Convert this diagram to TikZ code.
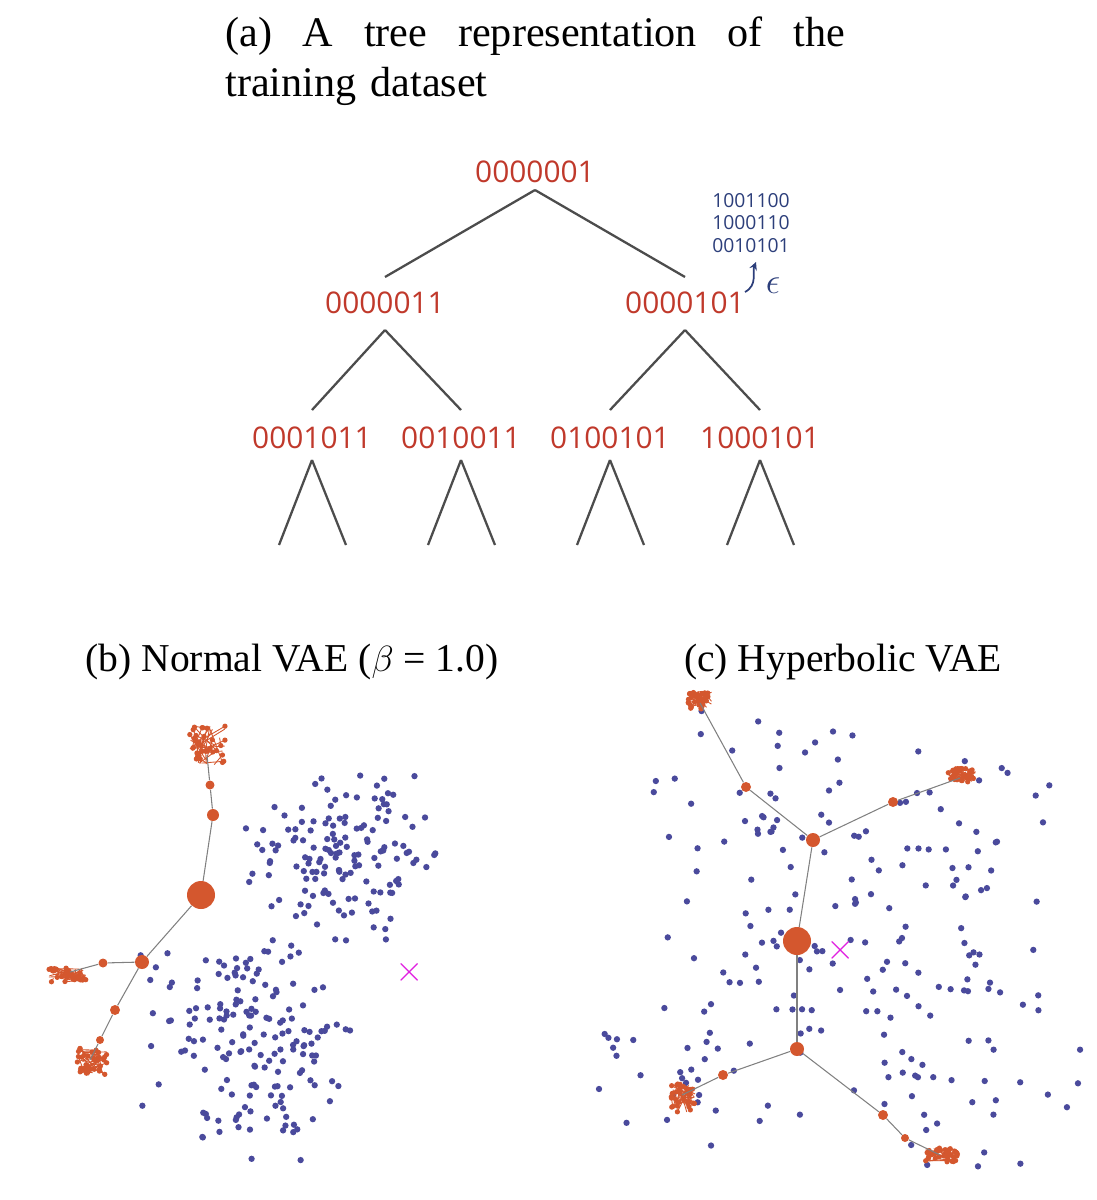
\documentclass[tikz,border=0pt]{standalone}
\usepackage{fontspec}
\setmainfont{Liberation Serif}
\newfontfamily\treefont{Open Sans}
\definecolor{tred}{HTML}{C0392B}
\definecolor{tblue}{HTML}{2C3E7A}
\definecolor{dotblue}{HTML}{4A4A9C}
\definecolor{dorange}{HTML}{D4572E}
\definecolor{xmag}{HTML}{E020E0}
\begin{document}
\begin{tikzpicture}[x=0.02cm,y=-0.02cm,
  lab/.style={font=\treefont\fontsize{17}{20}\selectfont,text=tred,inner sep=2pt},
  br/.style={draw=black!70,line width=1.3pt},
  ttl/.style={font=\fontsize{24}{29}\selectfont,inner sep=0pt},
  edge/.style={draw=gray,line width=0.6pt},
  onode/.style={circle,fill=dorange,inner sep=0pt}]
\useasboundingbox (0,0) rectangle (1097,1200);
\node[ttl,text width=12.4cm,align=left,anchor=north west] (ta) at (225,16) {\hbox to 12.4cm{(a)\hfill A\hfill tree\hfill representation\hfill of\hfill the}\\training dataset};
% tree
\node[lab] (r) at (535,172) {0000001};
\node[lab] (l) at (385,303) {0000011};
\node[lab] (rr) at (685,303) {0000101};
\node[lab] (a1) at (312,438) {0001011};
\node[lab] (a2) at (461,438) {0010011};
\node[lab] (a3) at (610,438) {0100101};
\node[lab] (a4) at (760,438) {1000101};
\draw[br] (535,190) -- (385,277); \draw[br] (535,190) -- (685,277);
\draw[br] (385,330) -- (312,410); \draw[br] (385,330) -- (461,410);
\draw[br] (685,330) -- (610,410); \draw[br] (685,330) -- (760,410);
\foreach \x in {312,461,610,760}{
  \draw[br] (\x,460) -- (\x-33,545); \draw[br] (\x,460) -- (\x+34,545);}
\node[font=\treefont\fontsize{11}{13}\selectfont,text=tblue,align=center] (eps) at (751,223) {1001100\\1000110\\0010101};
\draw[tblue,line width=1pt,->,>=stealth] (745,292) .. controls (758,285) and (752,272) .. (756,262);
\node[text=tblue,font=\fontsize{20}{20}\selectfont] (e) at (773,286) {$\epsilon$};
% titles
\node[ttl,font=\fontsize{22.5}{27}\selectfont] (tb) at (292,662) {(b) Normal VAE ($\beta$ = 1.0)};
\node[ttl,font=\fontsize{22.5}{27}\selectfont] (tc) at (843,662) {(c) Hyperbolic VAE};
% blue scatter b
\pgfmathsetseed{7}
\foreach \i in {1,...,150}{
  \pgfmathsetmacro\dx{55*(rand+rand)} \pgfmathsetmacro\dy{50*(rand+rand)}
  \fill[dotblue] (335+\dx,855+\dy) circle[radius=1.8pt];}
\foreach \i in {1,...,170}{
  \pgfmathsetmacro\dx{60*(rand+rand)} \pgfmathsetmacro\dy{60*(rand+rand)}
  \fill[dotblue] (245+\dx,1045+\dy) circle[radius=1.8pt];}
% blue scatter c
\foreach \cx/\cy in {770/810,950/850,700/1040,950/1070,860/960}{
  \foreach \i in {1,...,45}{
    \pgfmathsetmacro\dx{70*(rand+rand)} \pgfmathsetmacro\dy{70*(rand+rand)}
    \fill[dotblue] (\cx+\dx,\cy+\dy) circle[radius=1.8pt];}}
% orange clusters
\foreach \cx/\cy/\sx/\sy in {207/745/18/20,68/975/20/7,92/1062/16/14,700/700/12/9,962/775/14/7,683/1098/12/14,942/1155/17/7}{
  \foreach \i in {1,...,35}{
    \pgfmathsetmacro\dx{\sx*rand} \pgfmathsetmacro\dy{\sy*rand}
    \pgfmathsetmacro\ex{\sx*rand} \pgfmathsetmacro\ey{\sy*rand}
    \draw[dorange,line width=0.5pt] (\cx+\dx,\cy+\dy) -- (\cx+\ex,\cy+\ey);
    \fill[dorange] (\cx+\dx,\cy+\dy) circle[radius=1.5pt];}}
% orange tree b
\node[onode,minimum size=28*0.02cm] (b0) at (201,895) {};
\node[onode,minimum size=14*0.02cm] (b1) at (142,962) {};
\node[onode,minimum size=12*0.02cm] (b2) at (213,815) {};
\node[onode,minimum size=9*0.02cm] (b3) at (210,785) {};
\coordinate (bt) at (207,755);
\node[onode,minimum size=9*0.02cm] (b4) at (103,963) {};
\coordinate (bl) at (70,972);
\node[onode,minimum size=10*0.02cm] (b5) at (115,1010) {};
\node[onode,minimum size=8*0.02cm] (b6) at (100,1040) {};
\coordinate (bb) at (90,1060);
\draw[edge] (b0) -- (b2) -- (b3) -- (bt);
\draw[edge] (b0) -- (b1) -- (b4) -- (bl);
\draw[edge] (b1) -- (b5) -- (b6) -- (bb);
% orange tree c
\node[onode,minimum size=28*0.02cm] (c0) at (797,941) {};
\node[onode,minimum size=14*0.02cm] (c1) at (813,840) {};
\node[onode,minimum size=14*0.02cm] (c2) at (797,1049) {};
\node[onode,minimum size=10*0.02cm] (c3) at (746,787) {};
\coordinate (ct1) at (700,703);
\node[onode,minimum size=10*0.02cm] (c4) at (893,802) {};
\coordinate (ct2) at (960,778);
\node[onode,minimum size=10*0.02cm] (c5) at (723,1075) {};
\coordinate (ct3) at (682,1095);
\node[onode,minimum size=10*0.02cm] (c6) at (883,1115) {};
\node[onode,minimum size=8*0.02cm] (c7) at (905,1138) {};
\coordinate (ct4) at (940,1155);
\draw[edge] (c0) -- (c1); \draw[edge] (c0) -- (c2);
\draw[edge] (c1) -- (c3) -- (ct1);
\draw[edge] (c1) -- (c4) -- (ct2);
\draw[edge] (c2) -- (c5) -- (ct3);
\draw[edge] (c2) -- (c6) -- (c7) -- (ct4);
% crosses
\node[text=xmag,font=\fontsize{22}{22}\selectfont] (xb) at (410,972) {$\times$};
\node[text=xmag,font=\fontsize{22}{22}\selectfont] (xc) at (841,950) {$\times$};
\end{tikzpicture}
\end{document}
